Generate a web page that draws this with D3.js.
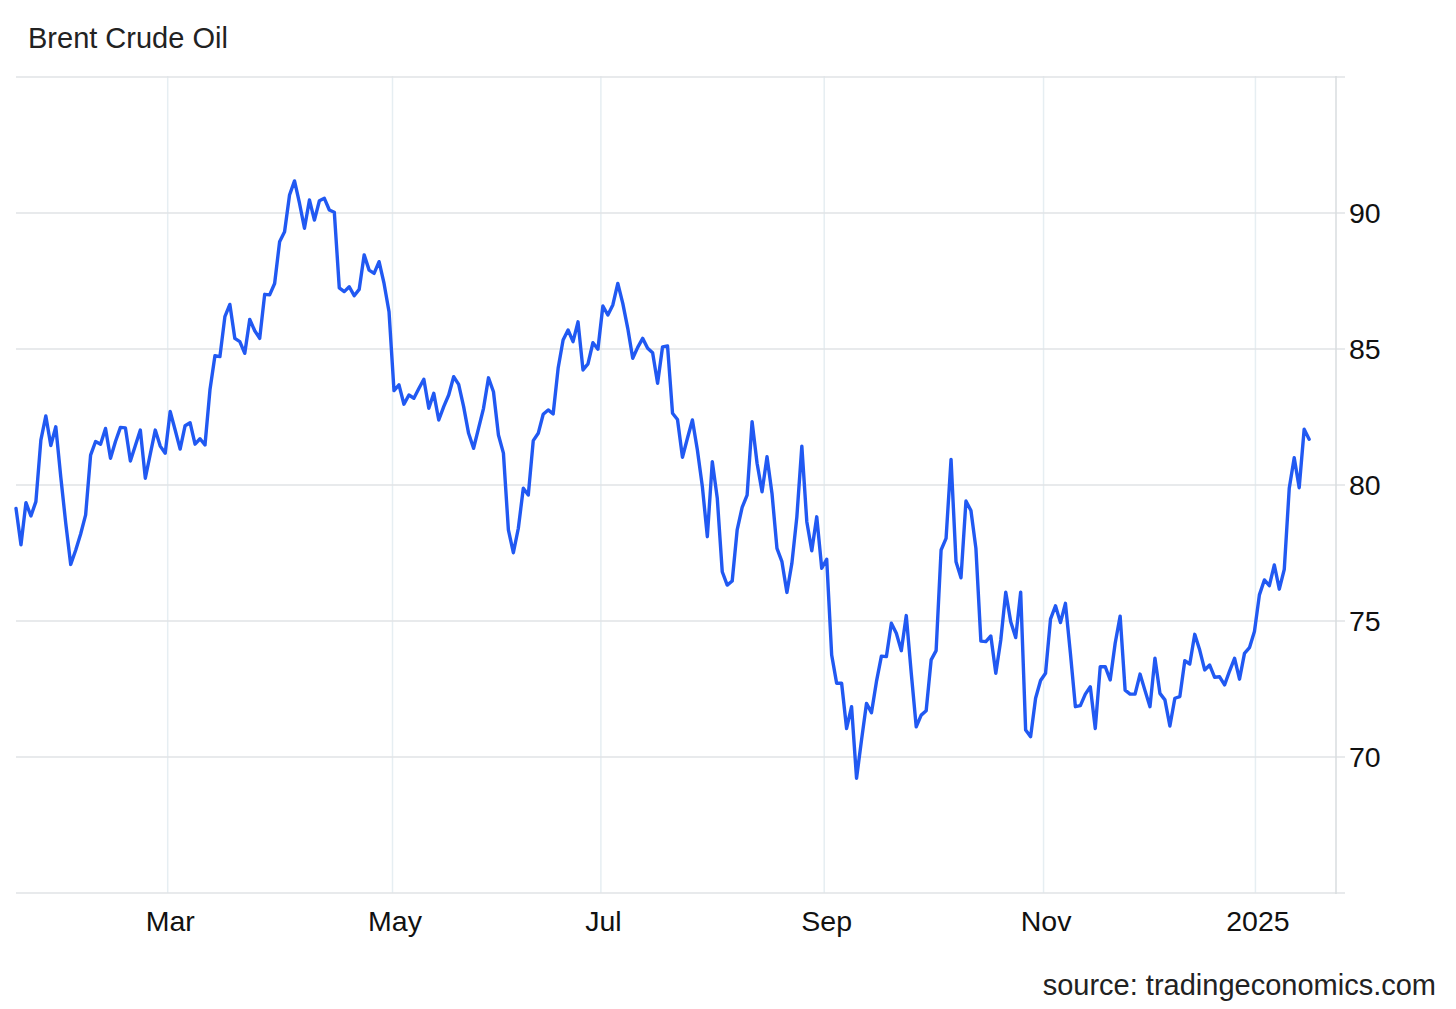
<!DOCTYPE html>
<html>
<head>
<meta charset="utf-8">
<script src="https://cdn.jsdelivr.net/npm/d3@7"></script>
<style>
  html, body { margin: 0; padding: 0; background: #ffffff; }
  svg { display: block; font-family: "Liberation Sans", Arial, Helvetica, sans-serif; }
</style>
</head>
<body>
<svg id="chart" width="1456" height="1009"></svg>
<script>
// ---- Data (trading-day series) ----
const values = [
  79.14, 77.8, 79.35, 78.86, 79.39, 81.65, 82.54, 81.45, 82.14, 80.3,
  78.6, 77.08, 77.6, 78.2, 78.9, 81.1, 81.6, 81.5, 82.08, 80.98,
  81.6, 82.12, 82.1, 80.88, 81.45, 82.02, 80.25, 81.14, 82.02, 81.43,
  81.17, 82.7, 82.02, 81.32, 82.18, 82.29, 81.5, 81.7, 81.47, 83.5,
  84.75, 84.72, 86.19, 86.64, 85.39, 85.27, 84.84, 86.09, 85.67, 85.39,
  87.01, 86.99, 87.41, 88.94, 89.31, 90.66, 91.18, 90.36, 89.44, 90.48,
  89.74, 90.45, 90.54, 90.11, 90.03, 87.25, 87.11, 87.29, 86.96, 87.19,
  88.46, 87.9, 87.78, 88.21, 87.41, 86.37, 83.47, 83.68, 82.97, 83.31,
  83.19, 83.55, 83.89, 82.82, 83.37, 82.39, 82.88, 83.31, 83.98, 83.7,
  82.88, 81.9, 81.35, 82.08, 82.82, 83.94, 83.43, 81.84, 81.17, 78.35,
  77.51, 78.41, 79.88, 79.63, 81.63, 81.9, 82.6, 82.76, 82.61, 84.29,
  85.33, 85.7, 85.27, 86.0, 84.23, 84.45, 85.23, 84.99, 86.58, 86.25,
  86.62, 87.41, 86.68, 85.76, 84.66, 85.06, 85.39, 85.03, 84.86, 83.74,
  85.08, 85.11, 82.64, 82.41, 81.02, 81.72, 82.39, 81.29, 79.94, 78.1,
  80.86, 79.51, 76.81, 76.32, 76.47, 78.35, 79.18, 79.63, 82.33, 80.8,
  79.75, 81.04, 79.69, 77.67, 77.18, 76.05, 77.12, 78.83, 81.43, 78.65,
  77.58, 78.83, 76.94, 77.27, 73.75, 72.71, 72.71, 71.05, 71.85, 69.22,
  70.62, 71.97, 71.63, 72.77, 73.71, 73.69, 74.92, 74.55, 73.91, 75.2,
  73.08, 71.11, 71.54, 71.7, 73.57, 73.91, 77.61, 78.04, 80.94, 77.18,
  76.59, 79.41, 79.06, 77.67, 74.26, 74.24, 74.45, 73.08, 74.3, 76.06,
  74.97, 74.39, 76.06, 70.99, 70.75, 72.16, 72.81, 73.08, 75.07, 75.56,
  74.94, 75.65, 73.81, 71.85, 71.89, 72.31, 72.58, 71.05, 73.32, 73.32,
  72.83, 74.18, 75.18, 72.46, 72.31, 72.31, 73.05, 72.44, 71.85, 73.63,
  72.34, 72.1, 71.14, 72.16, 72.22, 73.54, 73.42, 74.51, 73.93, 73.2,
  73.38, 72.93, 72.95, 72.65, 73.16, 73.63, 72.86, 73.81, 74.02, 74.61,
  75.96, 76.51, 76.3, 77.06, 76.17, 76.9, 79.88, 81.0, 79.9, 82.05,
  81.68
];
// x-axis: month tick positions on the trading-day index axis
const tickPositions = [30.5, 75.7, 117.6, 162.5, 206.6, 249.2];
const tickLabels = ["Mar", "May", "Jul", "Sep", "Nov", "2025"];
// y-axis ticks
const yTickValues = [70, 75, 80, 85, 90];
const yGridValues = [65, 70, 75, 80, 85, 90, 95];
const titleText = "Brent Crude Oil";
const sourceText = "source: tradingeconomics.com";

// ---- Layout ----
const svg = d3.select("#chart");
const plotLeft = 16, plotRight = 1336, plotTop = 77, plotBottom = 893;

const x = d3.scaleLinear().domain([0, 265.4]).range([plotLeft, plotRight]);
const y = d3.scaleLinear().domain([65, 95]).range([plotBottom, plotTop]);

svg.append("rect").attr("width", 1456).attr("height", 1009).attr("fill", "#ffffff");

// vertical grid lines
svg.append("g")
  .selectAll("line")
  .data(tickPositions)
  .join("line")
  .attr("x1", d => x(d)).attr("x2", d => x(d))
  .attr("y1", plotTop - 1).attr("y2", plotBottom)
  .attr("stroke", "#e6eef2")
  .attr("stroke-width", 1.5);

// horizontal grid lines
svg.append("g")
  .selectAll("line")
  .data(yGridValues)
  .join("line")
  .attr("x1", plotLeft).attr("x2", plotRight + 9)
  .attr("y1", d => y(d)).attr("y2", d => y(d))
  .attr("stroke", "#e0e3e6")
  .attr("stroke-width", 1.5);

// right axis line
svg.append("line")
  .attr("x1", plotRight).attr("x2", plotRight)
  .attr("y1", plotTop - 1).attr("y2", plotBottom + 1)
  .attr("stroke", "#d9dcdf")
  .attr("stroke-width", 1.5);

// y-axis using d3 axis, restyled
const yAxis = d3.axisRight(y).tickValues(yTickValues).tickSize(0).tickPadding(0);
const yg = svg.append("g").attr("transform", `translate(${plotRight + 13},0)`).call(yAxis);
yg.select(".domain").remove();
yg.selectAll("text")
  .attr("font-size", 28.5)
  .attr("fill", "#111")
  .attr("font-family", '"Liberation Sans", Arial, sans-serif');

// x-axis using d3 axis
const xAxis = d3.axisBottom(x).tickValues(tickPositions)
  .tickFormat((d, i) => tickLabels[i]).tickSize(0).tickPadding(0);
const xg = svg.append("g").attr("transform", `translate(2,${plotBottom + 18})`).call(xAxis);
xg.select(".domain").remove();
xg.selectAll("text")
  .attr("font-size", 28.5)
  .attr("fill", "#111")
  .attr("font-family", '"Liberation Sans", Arial, sans-serif');

// line
const line = d3.line()
  .x((d, i) => x(i))
  .y(d => y(d));

svg.append("path")
  .datum(values)
  .attr("d", line)
  .attr("fill", "none")
  .attr("stroke", "#2159f2")
  .attr("stroke-width", 3.4)
  .attr("stroke-linejoin", "round")
  .attr("stroke-linecap", "round");

// title
svg.append("text")
  .attr("x", 28).attr("y", 48)
  .attr("font-size", 29)
  .attr("fill", "#222")
  .text(titleText);

// source
svg.append("text")
  .attr("x", 1436).attr("y", 995)
  .attr("text-anchor", "end")
  .attr("font-size", 29)
  .attr("fill", "#222")
  .text(sourceText);
</script>
</body>
</html>
